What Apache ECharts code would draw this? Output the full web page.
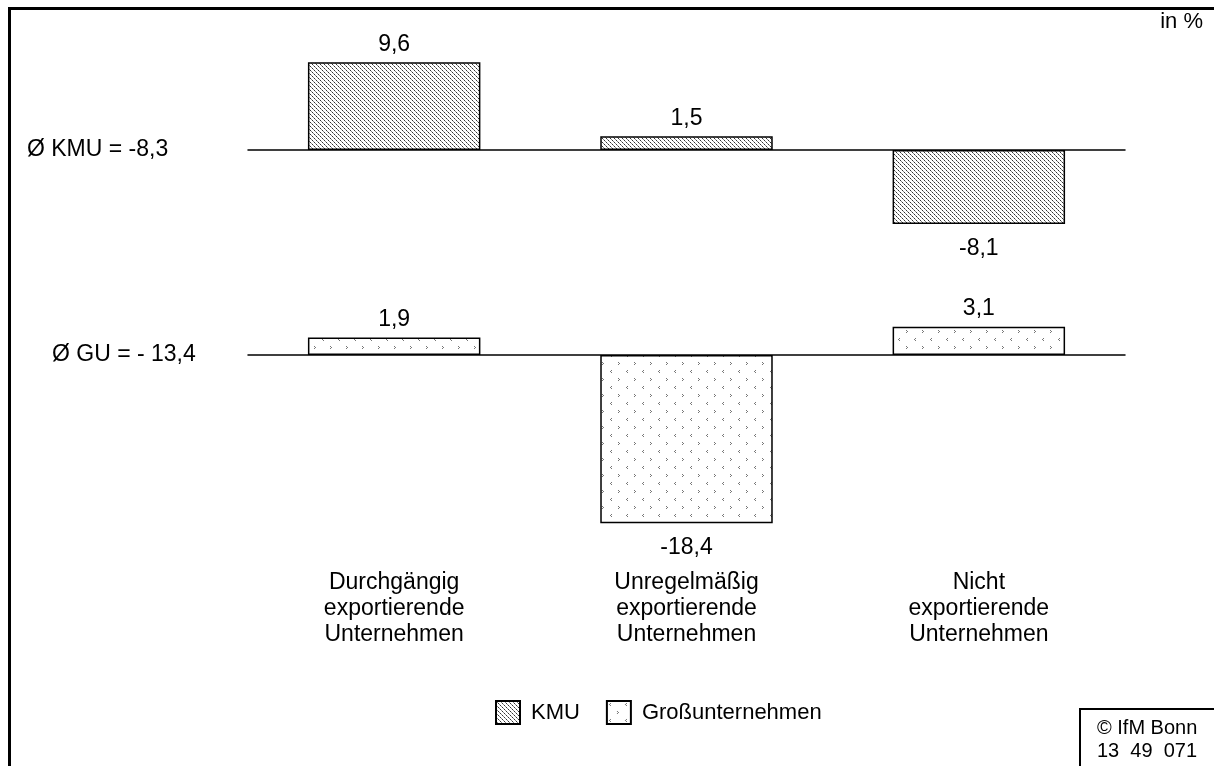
<!DOCTYPE html>
<html>
<head>
<meta charset="utf-8">
<script src="https://cdn.jsdelivr.net/npm/echarts@6/dist/echarts.min.js"></script>
<style>
  html, body { margin: 0; padding: 0; background: #fff; }
  #chart { width: 1214px; height: 766px; }
</style>
</head>
<body>
<div id="chart"></div>
<script>
// Daten
const categories = ['Durchgängig\nexportierende\nUnternehmen', 'Unregelmäßig\nexportierende\nUnternehmen', 'Nicht\nexportierende\nUnternehmen'];
const seriesNames = ['KMU', 'Großunternehmen'];
const kmuValues = [9.6, 1.5, -8.1];
const guValues = [1.9, -18.4, 3.1];
const averageLabels = ['Ø KMU = -8,3', 'Ø GU = - 13,4'];

const FONT = '"Liberation Sans", Arial, sans-serif';
const FS = 23;
const fmt = v => v.toFixed(1).replace('.', ',');

// Schraffur fuer KMU (diagonale Linien)
function hatchPattern() {
  const c = document.createElement('canvas');
  c.width = 8; c.height = 8;
  const ctx = c.getContext('2d');
  ctx.fillStyle = '#fff';
  ctx.fillRect(0, 0, 8, 8);
  for (let i = 0; i < 8; i++) {
    ctx.fillStyle = i % 2 ? '#888' : '#333';
    ctx.fillRect(i, i, 1, 1);
    ctx.fillRect((i + 4) % 8, i, 1, 1);
  }
  return c;
}

// Punktmuster fuer Grossunternehmen
function dotPattern() {
  const c = document.createElement('canvas');
  c.width = 16; c.height = 16;
  const ctx = c.getContext('2d');
  ctx.fillStyle = '#fff';
  ctx.fillRect(0, 0, 16, 16);
  ctx.fillStyle = '#777';
  // "<"
  ctx.fillRect(3, 2, 1, 1); ctx.fillRect(2, 3, 1, 1); ctx.fillRect(3, 4, 1, 1);
  // ">"
  ctx.fillRect(10, 10, 1, 1); ctx.fillRect(11, 11, 1, 1); ctx.fillRect(10, 12, 1, 1);
  return c;
}

const toData = vals => vals.map(v => ({
  value: v,
  label: { position: v >= 0 ? 'top' : 'bottom', distance: v >= 0 ? 6 : 13 }
}));

const baseAxis = (gridIndex, position) => ({
  type: 'category',
  gridIndex: gridIndex,
  position: position,
  data: categories,
  axisLine: { onZero: true, lineStyle: { color: '#000', width: 1.5 } },
  axisTick: { show: false },
  axisLabel: { show: false }
});

const valueAxis = (gridIndex, min, max, interval, label, margin) => ({
  type: 'value',
  gridIndex: gridIndex,
  min: min, max: max, interval: interval,
  axisLine: { show: false },
  axisTick: { show: false },
  splitLine: { show: false },
  axisLabel: {
    formatter: v => (v === 0 ? label : ''),
    align: 'left',
    margin: margin,
    fontSize: FS,
    fontFamily: FONT,
    color: '#000'
  }
});

const barLabel = {
  show: true,
  formatter: p => fmt(p.value),
  fontSize: FS,
  fontFamily: FONT,
  color: '#000'
};

const chart = echarts.init(document.getElementById('chart'));
chart.setOption({
  animation: false,
  textStyle: { fontFamily: FONT },
  grid: [
    { left: 248, width: 877, top: 58.5, height: 183 },
    { left: 248, width: 877, top: 309.25, height: 228.75 }
  ],
  xAxis: [
    baseAxis(0, 'bottom'),
    baseAxis(1, 'top'),
    {
      type: 'category',
      gridIndex: 1,
      position: 'bottom',
      data: categories,
      axisLine: { show: false, onZero: false },
      axisTick: { show: false },
      axisLabel: { fontSize: FS, lineHeight: 26, margin: 32, color: '#000', fontFamily: FONT, interval: 0 }
    }
  ],
  yAxis: [
    valueAxis(0, -10, 10, 10, averageLabels[0], 221),
    valueAxis(1, -20, 5, 5, averageLabels[1], 196)
  ],
  legend: {
    data: seriesNames,
    left: 490,
    top: 695,
    itemWidth: 24,
    itemHeight: 23,
    itemGap: 26,
    icon: 'rect',
    textStyle: { fontSize: 22, color: '#000', fontFamily: FONT, padding: [0, 0, 0, 6] }
  },
  series: [
    {
      name: seriesNames[0],
      type: 'bar',
      xAxisIndex: 0,
      yAxisIndex: 0,
      barWidth: '59%',
      data: toData(kmuValues),
      itemStyle: { color: { image: hatchPattern(), repeat: 'repeat' }, borderColor: '#000', borderWidth: 1.5 },
      label: barLabel
    },
    {
      name: seriesNames[1],
      type: 'bar',
      xAxisIndex: 1,
      yAxisIndex: 1,
      barWidth: '59%',
      data: toData(guValues),
      itemStyle: { color: { image: dotPattern(), repeat: 'repeat' }, borderColor: '#000', borderWidth: 1.5 },
      label: barLabel
    }
  ],
  graphic: [
    { type: 'rect', shape: { x: 9.5, y: 8.5, width: 1400, height: 900 }, style: { fill: 'none', stroke: '#000', lineWidth: 3 } },
    { type: 'text', x: 1203, y: 22, style: { text: 'in %', align: 'right', verticalAlign: 'middle', font: '22px ' + FONT, fill: '#000' } },
    { type: 'rect', shape: { x: 1080, y: 709, width: 300, height: 200 }, style: { fill: 'none', stroke: '#000', lineWidth: 2 } },
    { type: 'text', x: 1097, y: 728, style: { text: '© IfM Bonn', verticalAlign: 'middle', font: '20px ' + FONT, fill: '#000' } },
    { type: 'text', x: 1097, y: 751, style: { text: '13  49  071', verticalAlign: 'middle', font: '20px ' + FONT, fill: '#000' } }
  ]
});
</script>
</body>
</html>
